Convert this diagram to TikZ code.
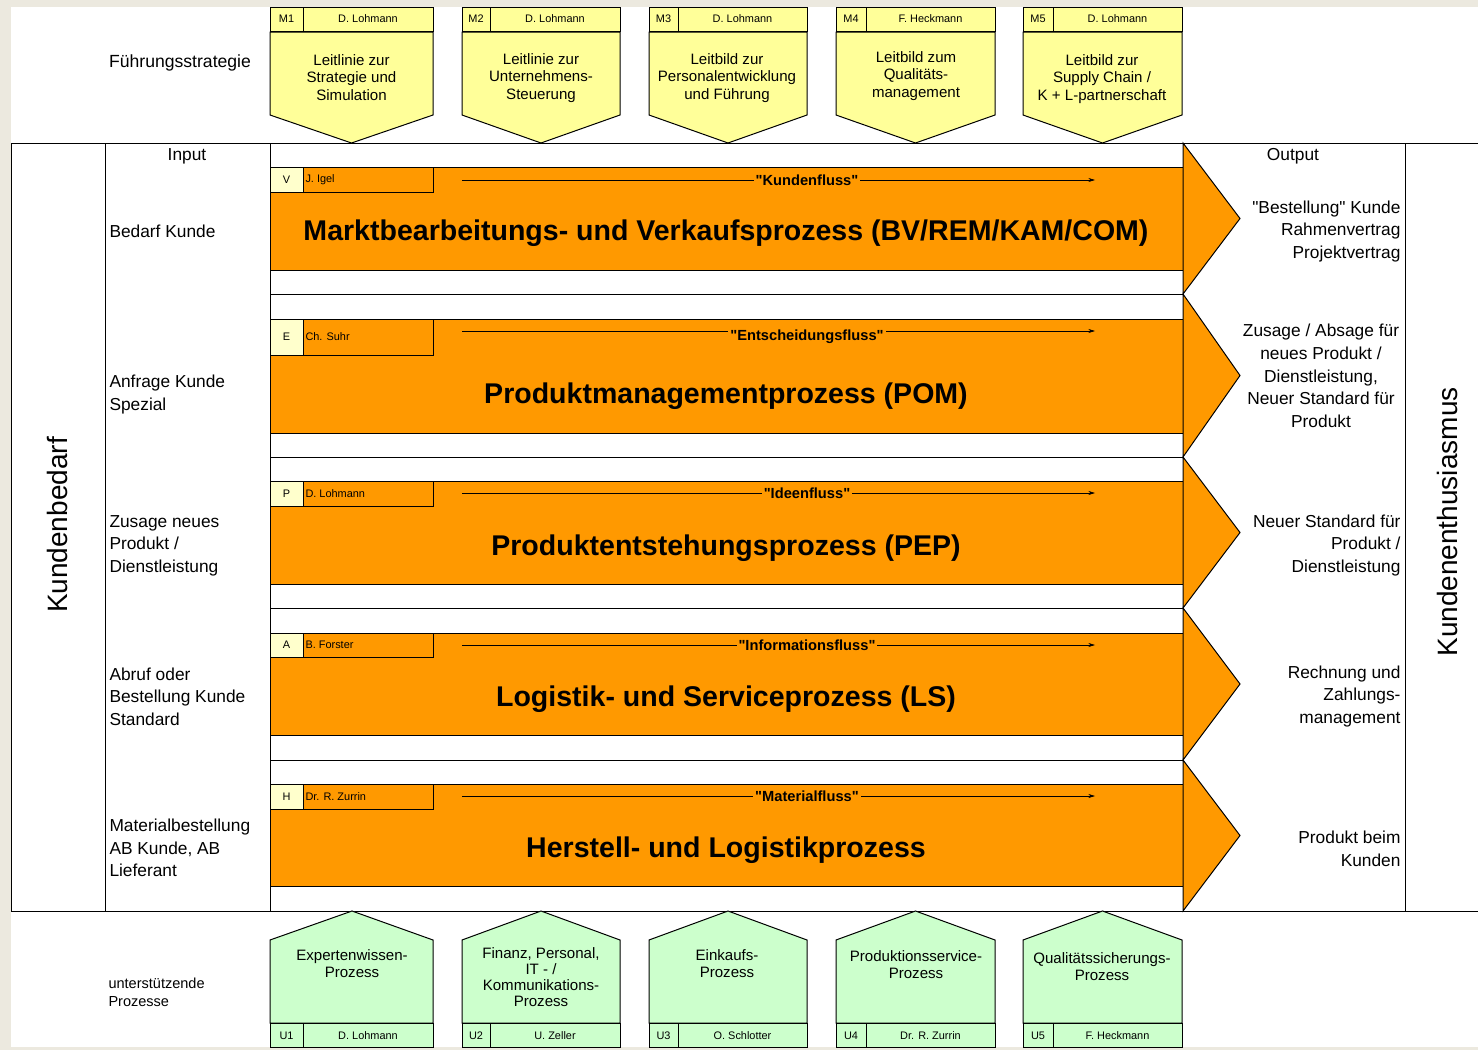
\documentclass[tikz,border=0pt]{standalone}
\usepackage{fontspec}
\setmainfont{Liberation Sans}
\usetikzlibrary{arrows.meta}
\definecolor{procorange}{HTML}{FF9900}
\definecolor{mgmtyellow}{HTML}{FFFF99}
\definecolor{idyellow}{HTML}{FFFFCC}
\definecolor{suppgreen}{HTML}{CCFFCC}
\definecolor{pagebeige}{HTML}{ECE9DF}

\begin{document}
\begin{tikzpicture}[x=0.75pt, y=-0.75pt, line width=0.75pt,
  band/.style={draw, fill=procorange},
  mgmt/.style={draw, fill=mgmtyellow},
  supp/.style={draw, fill=suppgreen},
  idcell/.style={draw, fill=idyellow},
  tiny/.style={font=\fontsize{8.2}{9}\selectfont, inner sep=0pt},
  boxtext/.style={align=center, font=\fontsize{11.3}{13.2}\selectfont, inner sep=0pt},
  sidetext/.style={font=\fontsize{13}{17}\selectfont, inner sep=0pt},
  title/.style={font=\fontsize{21.4}{25}\selectfont\bfseries, inner sep=0pt},
  flowlabel/.style={fill=procorange, inner sep=1.5pt, font=\fontsize{11}{13}\selectfont\bfseries},
  flow/.style={line width=0.5pt, -{Stealth[length=5pt,width=3pt]}},
  bigside/.style={font=\fontsize{21}{25}\selectfont, rotate=90, inner sep=0pt}]

\fill[pagebeige] (0,0) rectangle (1478,1050);
\fill[white] (11,7) rectangle (1478,1047);
\useasboundingbox (0,0) rectangle (1478,1050);

% Fuehrungsprozesse
\node[font=\fontsize{13.2}{15}\selectfont] (fstrat) at (180,63) {Führungsstrategie};

\draw[mgmt] (270,7) rectangle (303,31);
\draw[mgmt] (303,7) rectangle (433,31);
\draw[mgmt] (270,32) -- (433,32) -- (433,115) -- (351.5,143) -- (270,115) -- cycle;
\node[tiny] (m1-id) at (286.5,19) {M1};
\node[tiny] (m1-owner) at (368,19) {D. Lohmann};
\node[boxtext] (m1) at (351.5,77.5) {Leitlinie zur\\Strategie und\\Simulation};

\draw[mgmt] (462,7) rectangle (490,31);
\draw[mgmt] (490,7) rectangle (620,31);
\draw[mgmt] (462,32) -- (620,32) -- (620,115) -- (541,143) -- (462,115) -- cycle;
\node[tiny] (m2-id) at (476,19) {M2};
\node[tiny] (m2-owner) at (555,19) {D. Lohmann};
\node[boxtext] (m2) at (541,78) {Leitlinie zur\\Unternehmens-\\Steuerung};

\draw[mgmt] (649,7) rectangle (678,31);
\draw[mgmt] (678,7) rectangle (807,31);
\draw[mgmt] (649,32) -- (807,32) -- (807,115) -- (728,143) -- (649,115) -- cycle;
\node[tiny] (m3-id) at (663.5,19) {M3};
\node[tiny] (m3-owner) at (742.5,19) {D. Lohmann};
\node[boxtext] (m3) at (727,78) {Leitbild zur\\Personalentwicklung\\und Führung};

\draw[mgmt] (836,7) rectangle (866,31);
\draw[mgmt] (866,7) rectangle (995,31);
\draw[mgmt] (836,32) -- (995,32) -- (995,115) -- (915.5,143) -- (836,115) -- cycle;
\node[tiny] (m4-id) at (851,19) {M4};
\node[tiny] (m4-owner) at (930.5,19) {F. Heckmann};
\node[boxtext] (m4) at (916,76) {Leitbild zum\\Qualitäts-\\management};

\draw[mgmt] (1023,7) rectangle (1053,31);
\draw[mgmt] (1053,7) rectangle (1182,31);
\draw[mgmt] (1023,32) -- (1182,32) -- (1182,115) -- (1102.5,143) -- (1023,115) -- cycle;
\node[tiny] (m5-id) at (1038,19) {M5};
\node[tiny] (m5-owner) at (1117.5,19) {D. Lohmann};
\node[boxtext] (m5) at (1102,79) {Leitbild zur\\Supply Chain /\\K + L-partnerschaft};

% Kernprozesse
\draw[band] (270,167) rectangle (1183,270);
\draw[idcell] (270,167) rectangle (303,192);
\draw (303,167) rectangle (433,192);
\node[tiny] (vk-id) at (286.5,180) {V};
\node[tiny, anchor=west] (vk-owner) at (305,180) {J. Igel};
\coordinate (vk-from) at (462,180);
\coordinate (vk-to) at (1095,180);
\draw[flow] (vk-from) -- (vk-to) node[flowlabel, pos=0.545] (vk-flow) {\textquotedbl Kundenfluss\textquotedbl};
\node[title] (vk) at (726,233) {Marktbearbeitungs- und Verkaufsprozess (BV/REM/KAM/COM)};
\draw[band] (1183,143) -- (1240,218.5) -- (1183,294) -- cycle;
\draw (270,294) -- (1183,294);

\draw[band] (270,319) rectangle (1183,433);
\draw[idcell] (270,319) rectangle (303,355);
\draw (303,319) rectangle (433,355);
\node[tiny] (pm-id) at (286.5,337) {E};
\node[tiny, anchor=west] (pm-owner) at (305,337) {Ch. Suhr};
\coordinate (pm-from) at (462,331);
\coordinate (pm-to) at (1095,331);
\draw[flow] (pm-from) -- (pm-to) node[flowlabel, pos=0.545, yshift=-4.5pt] (pm-flow) {\textquotedbl Entscheidungsfluss\textquotedbl};
\node[title] (pm) at (726,396) {Produktmanagementprozess (POM)};
\draw[band] (1183,294) -- (1240,375.5) -- (1183,457) -- cycle;
\draw (270,457) -- (1183,457);

\draw[band] (270,481) rectangle (1183,584);
\draw[idcell] (270,481) rectangle (303,506);
\draw (303,481) rectangle (433,506);
\node[tiny] (pe-id) at (286.5,493.5) {P};
\node[tiny, anchor=west] (pe-owner) at (305,493.5) {D. Lohmann};
\coordinate (pe-from) at (462,493);
\coordinate (pe-to) at (1095,493);
\draw[flow] (pe-from) -- (pe-to) node[flowlabel, pos=0.545] (pe-flow) {\textquotedbl Ideenfluss\textquotedbl};
\node[title] (pe) at (726,548) {Produktentstehungsprozess (PEP)};
\draw[band] (1183,457) -- (1240,532.5) -- (1183,608) -- cycle;
\draw (270,608) -- (1183,608);

\draw[band] (270,633) rectangle (1183,735);
\draw[idcell] (270,633) rectangle (303,657);
\draw (303,633) rectangle (433,657);
\node[tiny] (ls-id) at (286.5,645) {A};
\node[tiny, anchor=west] (ls-owner) at (305,645) {B. Forster};
\coordinate (ls-from) at (462,645);
\coordinate (ls-to) at (1095,645);
\draw[flow] (ls-from) -- (ls-to) node[flowlabel, pos=0.545] (ls-flow) {\textquotedbl Informationsfluss\textquotedbl};
\node[title] (ls) at (726,699) {Logistik- und Serviceprozess (LS)};
\draw[band] (1183,608) -- (1240,684) -- (1183,760) -- cycle;
\draw (270,760) -- (1183,760);

\draw[band] (270,784) rectangle (1183,886);
\draw[idcell] (270,784) rectangle (303,809);
\draw (303,784) rectangle (433,809);
\node[tiny] (hl-id) at (286.5,796.5) {H};
\node[tiny, anchor=west] (hl-owner) at (305,796.5) {Dr. R. Zurrin};
\coordinate (hl-from) at (462,796);
\coordinate (hl-to) at (1095,796);
\draw[flow] (hl-from) -- (hl-to) node[flowlabel, pos=0.545] (hl-flow) {\textquotedbl Materialfluss\textquotedbl};
\node[title] (hl) at (726,850) {Herstell- und Logistikprozess};
\draw[band] (1183,760) -- (1240,835.5) -- (1183,911) -- cycle;

% Rahmen
\draw (11,143) -- (1478,143);
\draw (11,911) -- (1478,911);
\draw (11,143) -- (11,911);
\draw (105,143) -- (105,911);
\draw (270,143) -- (270,911);
\draw (1405,143) -- (1405,911);

\node[bigside] (bedarf) at (57,525) {Kundenbedarf};
\node[bigside] (enthus) at (1447,522) {Kundenenthusiasmus};

\node[sidetext] (input) at (187,156) {Input};
\node[sidetext, anchor=west] (in-vk) at (109,231) {Bedarf Kunde};
\node[sidetext, anchor=west, align=left] (in-pm) at (109,394.5) {Anfrage Kunde\\Spezial};
\node[sidetext, anchor=west, align=left] (in-pe) at (109,545.5) {Zusage neues\\Produkt /\\Dienstleistung};
\node[sidetext, anchor=west, align=left] (in-ls) at (109,696.5) {Abruf oder\\Bestellung Kunde\\Standard};
\node[sidetext, anchor=west, align=left] (in-hl) at (109,848) {Materialbestellung\\AB Kunde, AB\\Lieferant};

\node[sidetext] (output) at (1293,156) {Output};
\node[sidetext, anchor=east, align=right] (out-vk) at (1401,231.5) {\textquotedbl Bestellung\textquotedbl{} Kunde\\Rahmenvertrag\\Projektvertrag};
\node[sidetext, align=center] (out-pm) at (1321,376) {Zusage / Absage für\\neues Produkt /\\Dienstleistung,\\Neuer Standard für\\Produkt};
\node[sidetext, anchor=east, align=right] (out-pe) at (1401,545.5) {Neuer Standard für\\Produkt /\\Dienstleistung};
\node[sidetext, anchor=east, align=right] (out-ls) at (1401,696.5) {Rechnung und\\Zahlungs-\\management};
\node[sidetext, anchor=east, align=right] (out-hl) at (1401,848.5) {Produkt beim\\Kunden};

% Unterstuetzungsprozesse
\node[anchor=west, align=left, inner sep=0pt, font=\fontsize{10.9}{13.5}\selectfont] (usupp) at (108,992) {unterstützende\\Prozesse};

\draw[supp] (270,940) -- (352,911) -- (433,940) -- (433,1023) -- (270,1023) -- cycle;
\draw[supp] (270,1023) rectangle (303,1047);
\draw[supp] (303,1023) rectangle (433,1047);
\node[tiny] (u1-id) at (286.5,1036) {U1};
\node[tiny] (u1-owner) at (368,1036) {D. Lohmann};
\node[boxtext] (u1) at (352,963.5) {Expertenwissen-\\Prozess};

\draw[supp] (462,940) -- (541,911) -- (620,940) -- (620,1023) -- (462,1023) -- cycle;
\draw[supp] (462,1023) rectangle (490,1047);
\draw[supp] (490,1023) rectangle (620,1047);
\node[tiny] (u2-id) at (476,1036) {U2};
\node[tiny] (u2-owner) at (555,1036) {U. Zeller};
\node[boxtext, font=\fontsize{11.3}{12.2}\selectfont] (u2) at (541,977) {Finanz, Personal,\\IT - /\\Kommunikations-\\Prozess};

\draw[supp] (649,940) -- (728,911) -- (807,940) -- (807,1023) -- (649,1023) -- cycle;
\draw[supp] (649,1023) rectangle (678,1047);
\draw[supp] (678,1023) rectangle (807,1047);
\node[tiny] (u3-id) at (663.5,1036) {U3};
\node[tiny] (u3-owner) at (742.5,1036) {O. Schlotter};
\node[boxtext] (u3) at (727,963.5) {Einkaufs-\\Prozess};

\draw[supp] (836,940) -- (915.5,911) -- (995,940) -- (995,1023) -- (836,1023) -- cycle;
\draw[supp] (836,1023) rectangle (866,1047);
\draw[supp] (866,1023) rectangle (995,1047);
\node[tiny] (u4-id) at (851,1036) {U4};
\node[tiny] (u4-owner) at (930.5,1036) {Dr. R. Zurrin};
\node[boxtext] (u4) at (916,964.5) {Produktionsservice-\\Prozess};

\draw[supp] (1023,940) -- (1102.5,911) -- (1182,940) -- (1182,1023) -- (1023,1023) -- cycle;
\draw[supp] (1023,1023) rectangle (1053,1047);
\draw[supp] (1053,1023) rectangle (1182,1047);
\node[tiny] (u5-id) at (1038,1036) {U5};
\node[tiny] (u5-owner) at (1117.5,1036) {F. Heckmann};
\node[boxtext] (u5) at (1102,966.5) {Qualitätssicherungs-\\Prozess};
\end{tikzpicture}
\end{document}
